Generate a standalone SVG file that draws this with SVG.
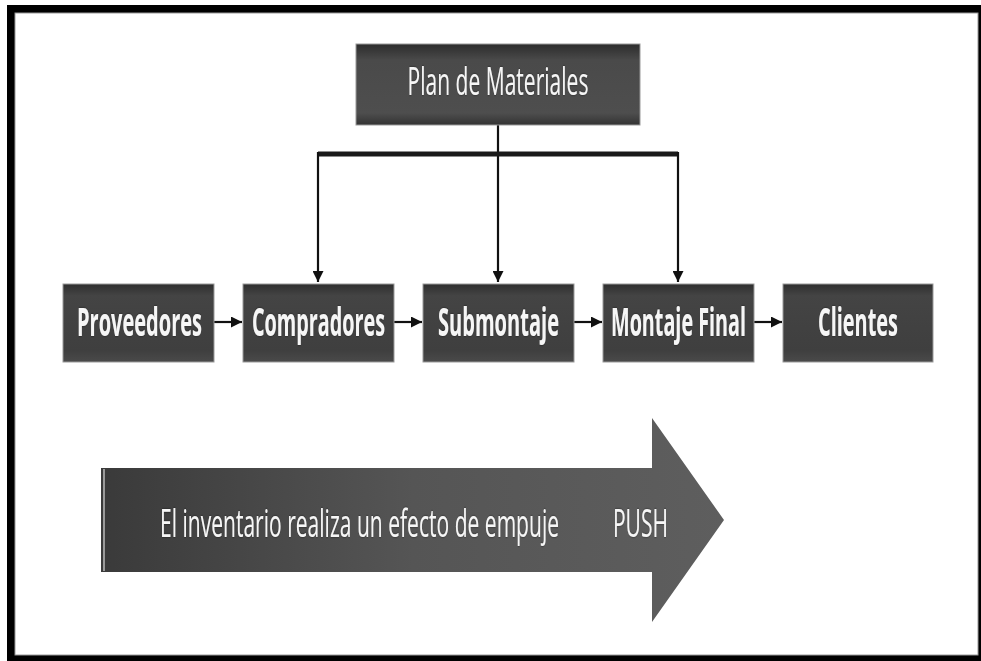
<svg xmlns="http://www.w3.org/2000/svg" width="981" height="661" viewBox="0 0 981 661">
  <defs>
    <style>
      .box { fill: url(#boxFill); stroke: #9a9a9a; stroke-width: 1; }
      .lbl { font-family: "Open Sans", "Liberation Sans", sans-serif; fill: #f6f6f6; text-anchor: middle; }
      .bold { font-weight: bold; font-size: 40px; }
      .reg { font-size: 39px; }
      .wire { fill: none; stroke: #111; stroke-width: 2.2; }
      .bar { fill: none; stroke: #1a1a1a; stroke-width: 5; }
    </style>
    <linearGradient id="boxFill" x1="0" y1="0" x2="0" y2="1">
      <stop offset="0" stop-color="#2e2e2e"/>
      <stop offset="0.15" stop-color="#444"/>
      <stop offset="0.85" stop-color="#3f3f3f"/>
      <stop offset="1" stop-color="#4a4a4a"/>
    </linearGradient>
    <linearGradient id="planFill" x1="0" y1="0" x2="0" y2="1">
      <stop offset="0" stop-color="#2c2c2c"/>
      <stop offset="0.2" stop-color="#4a4a4a"/>
      <stop offset="0.85" stop-color="#4e4e4e"/>
      <stop offset="1" stop-color="#333"/>
    </linearGradient>
    <linearGradient id="pushFill" x1="0" y1="0" x2="1" y2="0">
      <stop offset="0" stop-color="#3a3a3a"/>
      <stop offset="0.5" stop-color="#555"/>
      <stop offset="1" stop-color="#5e5e5e"/>
    </linearGradient>
    <marker id="head" viewBox="0 0 10 10" refX="10" refY="5" markerWidth="5" markerHeight="5" orient="auto" markerUnits="strokeWidth">
      <path d="M0,0 L10,5 L0,10 z" fill="#111"/>
    </marker>
    <filter id="shadow" x="-5%" y="-20%" width="110%" height="140%">
      <feGaussianBlur in="SourceAlpha" stdDeviation="1.2"/>
      <feOffset dx="0" dy="0" result="b"/>
      <feFlood flood-color="#000" flood-opacity="0.6"/>
      <feComposite in2="b" operator="in"/>
      <feMerge><feMergeNode/><feMergeNode in="SourceGraphic"/></feMerge>
    </filter>
  </defs>

  <!-- page frame -->
  <rect x="7" y="5" width="974" height="656" fill="#000"/>
  <rect x="15" y="13" width="963" height="642" fill="#fff" stroke="#999" stroke-width="1"/>

  <!-- connectors -->
  <g id="connectors">
    <line class="wire" x1="498" y1="125" x2="498" y2="282" marker-end="url(#head)"/>
    <line class="bar" x1="318" y1="154" x2="678" y2="154"/>
    <line class="wire" x1="318" y1="152" x2="318" y2="282" marker-end="url(#head)"/>
    <line class="wire" x1="678" y1="152" x2="678" y2="282" marker-end="url(#head)"/>
    <line class="wire" x1="214" y1="322" x2="242" y2="322" marker-end="url(#head)"/>
    <line class="wire" x1="394" y1="322" x2="422" y2="322" marker-end="url(#head)"/>
    <line class="wire" x1="574" y1="322" x2="602" y2="322" marker-end="url(#head)"/>
    <line class="wire" x1="754" y1="322" x2="782" y2="322" marker-end="url(#head)"/>
  </g>

  <!-- labels are set in a horizontally condensed face via scale(sx,1) -->
  <g id="plan">
    <rect x="356" y="44" width="284" height="81" fill="url(#planFill)" stroke="#999" stroke-width="1"/>
    <g transform="translate(498,95) scale(0.54,1)">
      <text class="lbl reg" x="0" y="0" textLength="335" lengthAdjust="spacingAndGlyphs" filter="url(#shadow)">Plan de Materiales</text>
    </g>
  </g>

  <g id="proveedores">
    <rect class="box" x="63" y="284" width="151" height="78"/>
    <g transform="translate(139.5,336) scale(0.5,1)">
      <text class="lbl bold" x="0" y="0" textLength="250" lengthAdjust="spacingAndGlyphs" filter="url(#shadow)">Proveedores</text>
    </g>
  </g>
  <g id="compradores">
    <rect class="box" x="243" y="284" width="151" height="78"/>
    <g transform="translate(318.5,336) scale(0.5,1)">
      <text class="lbl bold" x="0" y="0" textLength="266" lengthAdjust="spacingAndGlyphs" filter="url(#shadow)">Compradores</text>
    </g>
  </g>
  <g id="submontaje">
    <rect class="box" x="423" y="284" width="151" height="78"/>
    <g transform="translate(498.5,336) scale(0.5,1)">
      <text class="lbl bold" x="0" y="0" textLength="242" lengthAdjust="spacingAndGlyphs" filter="url(#shadow)">Submontaje</text>
    </g>
  </g>
  <g id="montaje-final">
    <rect class="box" x="603" y="284" width="151" height="78"/>
    <g transform="translate(678.5,336) scale(0.5,1)">
      <text class="lbl bold" x="0" y="0" textLength="270" lengthAdjust="spacingAndGlyphs" filter="url(#shadow)">Montaje Final</text>
    </g>
  </g>
  <g id="clientes">
    <rect class="box" x="783" y="284" width="150" height="78"/>
    <g transform="translate(858,336) scale(0.5,1)">
      <text class="lbl bold" x="0" y="0" textLength="160" lengthAdjust="spacingAndGlyphs" filter="url(#shadow)">Clientes</text>
    </g>
  </g>

  <!-- push arrow -->
  <g id="push">
    <path d="M101,468 L652,468 L652,418 L724,520 L652,622 L652,572 L101,572 Z" fill="url(#pushFill)"/>
    <line x1="104" y1="469" x2="104" y2="571" stroke="#bbb" stroke-width="1.5"/>
    <g transform="translate(359.5,537) scale(0.54,1)">
      <text class="lbl reg" x="0" y="0" textLength="739" lengthAdjust="spacingAndGlyphs" filter="url(#shadow)">El inventario realiza un efecto de empuje</text>
    </g>
    <g transform="translate(640.5,537) scale(0.54,1)">
      <text class="lbl reg" x="0" y="0" textLength="102" lengthAdjust="spacingAndGlyphs" filter="url(#shadow)">PUSH</text>
    </g>
  </g>
</svg>
